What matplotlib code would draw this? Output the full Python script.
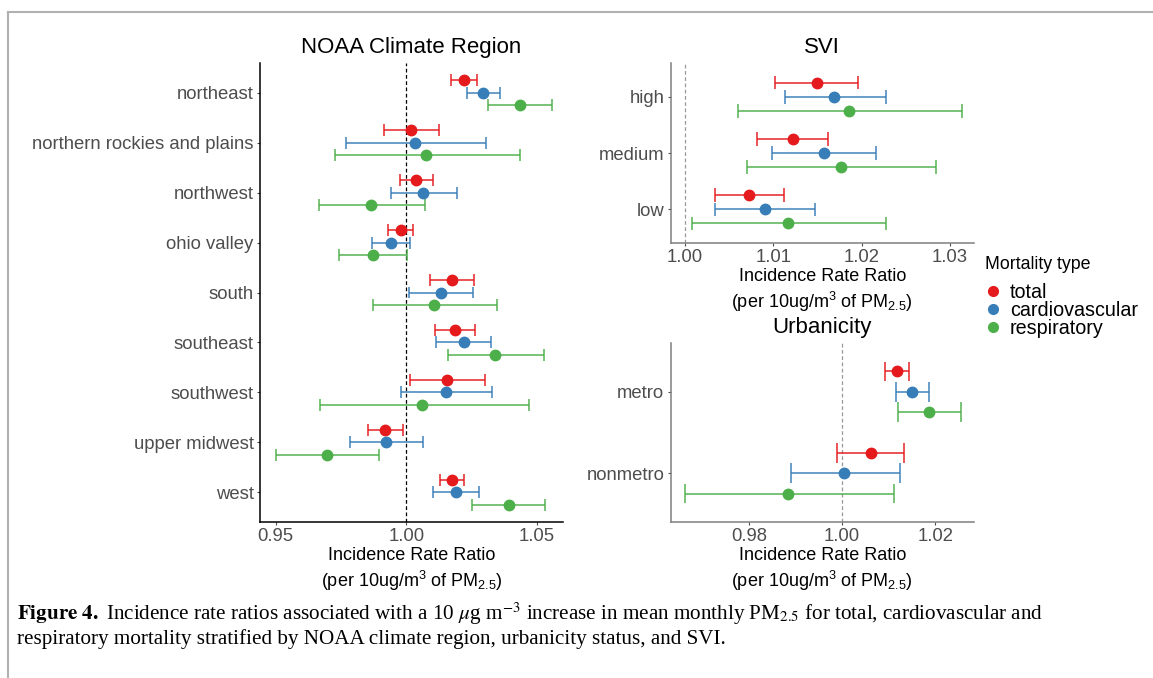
import matplotlib
matplotlib.use("Agg")
import matplotlib.pyplot as plt
from matplotlib.lines import Line2D
import numpy as np

plt.rcParams["font.family"] = ["Liberation Sans", "DejaVu Sans"]
plt.rcParams["mathtext.fontset"] = "custom"
plt.rcParams["mathtext.rm"] = "Liberation Sans"
plt.rcParams["mathtext.it"] = "Liberation Sans:italic"
plt.rcParams["mathtext.bf"] = "Liberation Sans:bold"

# ---- data (estimate, lower, upper) ----
types = ["total", "cardiovascular", "respiratory"]
colors = ["#E41A1C", "#377EB8", "#4DAF4A"]

regions = ["northeast", "northern rockies and plains", "northwest", "ohio valley",
           "south", "southeast", "southwest", "upper midwest", "west"]
region_total = [1.0221, 1.0018, 1.0038, 0.9978, 1.0174, 1.0187, 1.0154, 0.9920, 1.0175]
region_total_lo = [1.0173, 0.9914, 0.9975, 0.9931, 1.0089, 1.0111, 1.0015, 0.9854, 1.0129]
region_total_hi = [1.0272, 1.0124, 1.0102, 1.0026, 1.0259, 1.0265, 1.0300, 0.9988, 1.0221]
region_cardio = [1.0294, 1.0032, 1.0064, 0.9943, 1.0133, 1.0221, 1.0152, 0.9923, 1.0192]
region_cardio_lo = [1.0232, 0.9770, 0.9940, 0.9870, 1.0009, 1.0114, 0.9980, 0.9785, 1.0104]
region_cardio_hi = [1.0358, 1.0304, 1.0193, 1.0015, 1.0256, 1.0326, 1.0330, 1.0064, 1.0278]
region_resp = [1.0434, 1.0075, 0.9865, 0.9871, 1.0107, 1.0341, 1.0060, 0.9696, 1.0392]
region_resp_lo = [1.0314, 0.9728, 0.9667, 0.9744, 0.9873, 1.0161, 0.9671, 0.9501, 1.0253]
region_resp_hi = [1.0557, 1.0437, 1.0072, 1.0001, 1.0346, 1.0526, 1.0468, 0.9896, 1.0532]

svi = ["high", "medium", "low"]
svi_total = [1.0149, 1.0122, 1.0072]
svi_total_lo = [1.0102, 1.0082, 1.0034]
svi_total_hi = [1.0196, 1.0162, 1.0112]
svi_cardio = [1.0169, 1.0157, 1.0090]
svi_cardio_lo = [1.0113, 1.0098, 1.0034]
svi_cardio_hi = [1.0227, 1.0216, 1.0147]
svi_resp = [1.0186, 1.0177, 1.0117]
svi_resp_lo = [1.0060, 1.0070, 1.0008]
svi_resp_hi = [1.0313, 1.0284, 1.0227]

urban = ["metro", "nonmetro"]
urban_total = [1.0119, 1.0062]
urban_total_lo = [1.0093, 0.9989]
urban_total_hi = [1.0145, 1.0134]
urban_cardio = [1.0151, 1.0005]
urban_cardio_lo = [1.0117, 0.9890]
urban_cardio_hi = [1.0186, 1.0124]
urban_resp = [1.0188, 0.9885]
urban_resp_lo = [1.0121, 0.9663]
urban_resp_hi = [1.0256, 1.0112]

W, H = 1153, 678
fig = plt.figure(figsize=(W / 100, H / 100), dpi=100)


def px_axes(left, top, right, bottom):
    return fig.add_axes([left / W, 1 - bottom / H, (right - left) / W, (bottom - top) / H])


def forest(ax, cats, series, xlim, xticks, title, spine_color, ref_color, ref_ls):
    n = len(cats)
    y = np.arange(n)
    offsets = [-0.25, 0.0, 0.25]
    ax.axvline(1.0, color=ref_color, ls=ref_ls, lw=0.9, zorder=1)
    for (est, lo, hi), off, col in zip(series, offsets, colors):
        yy = y + off
        ax.hlines(yy, lo, hi, color=col, lw=1.4, alpha=0.75, zorder=2)
        ax.vlines(lo, yy - 0.12, yy + 0.12, color=col, lw=1.4, alpha=0.75, zorder=2)
        ax.vlines(hi, yy - 0.12, yy + 0.12, color=col, lw=1.4, alpha=0.75, zorder=2)
        ax.plot(est, yy, "o", color=col, ms=7.5, zorder=3)
    ax.set_ylim(n - 1 + 0.6, -0.6)
    ax.set_yticks(y)
    ax.set_yticklabels(cats)
    ax.set_xlim(*xlim)
    ax.set_xticks(xticks)
    ax.set_xticklabels([f"{t:.2f}" for t in xticks])
    for s in ["top", "right"]:
        ax.spines[s].set_visible(False)
    for s in ["left", "bottom"]:
        ax.spines[s].set_color(spine_color)
        ax.spines[s].set_linewidth(1.1)
    ax.tick_params(colors="#4D4D4D", labelsize=13.3, length=2.5, width=0.8, pad=2)
    ax.set_title(title, fontsize=16, pad=7)
    ax.set_xlabel("Incidence Rate Ratio\n(per 10ug/m$^3$ of PM$_{2.5}$)",
                  fontsize=13, labelpad=1, linespacing=1.3)


ax1 = px_axes(260, 63, 563, 522)
forest(ax1, regions,
       [(region_total, region_total_lo, region_total_hi),
        (region_cardio, region_cardio_lo, region_cardio_hi),
        (region_resp, region_resp_lo, region_resp_hi)],
       (0.944, 1.06), [0.95, 1.00, 1.05], "NOAA Climate Region",
       "black", "black", (0, (3, 2)))

ax2 = px_axes(670.5, 63, 974, 243)
forest(ax2, svi,
       [(svi_total, svi_total_lo, svi_total_hi),
        (svi_cardio, svi_cardio_lo, svi_cardio_hi),
        (svi_resp, svi_resp_lo, svi_resp_hi)],
       (0.99836, 1.0327), [1.00, 1.01, 1.02, 1.03], "SVI",
       "#7f7f7f", "#999999", (0, (3, 2)))

ax3 = px_axes(670.5, 343, 974, 522)
forest(ax3, urban,
       [(urban_total, urban_total_lo, urban_total_hi),
        (urban_cardio, urban_cardio_lo, urban_cardio_hi),
        (urban_resp, urban_resp_lo, urban_resp_hi)],
       (0.96316, 1.02836), [0.98, 1.00, 1.02], "Urbanicity",
       "#7f7f7f", "#999999", (0, (3, 2)))

handles = [Line2D([], [], marker="o", ls="", color=c, ms=7) for c in colors]
leg = fig.legend(handles, types, title="Mortality type", loc="upper left",
                 bbox_to_anchor=(985 / W, 1 - 256 / H), frameon=False, fontsize=14.2,
                 title_fontsize=12.8, alignment="left", handletextpad=0.45,
                 labelspacing=-0.05, handlelength=0.8, borderaxespad=0, borderpad=0)
leg._legend_box.sep = 7

# caption
cap_kw = dict(fontsize=15.2, family="Liberation Serif", math_fontfamily="stix",
              va="baseline", ha="left")
fig.text(17 / W, 1 - 620 / H,
         r"$\mathbf{Figure\ 4.}$ Incidence rate ratios associated with a 10 $\mu$g m$^{-3}$"
         r" increase in mean monthly PM$_{2.5}$ for total, cardiovascular and", **cap_kw)
fig.text(17 / W, 1 - 644 / H,
         "respiratory mortality stratified by NOAA climate region, urbanicity status, and SVI.",
         **cap_kw)

# page frame
fig.add_artist(Line2D([8 / W, 1], [1 - 12 / H] * 2, color="#b0b0b0", lw=1.5))
fig.add_artist(Line2D([8 / W] * 2, [0, 1 - 12 / H], color="#b0b0b0", lw=1.5))

fig.savefig("out.png", dpi=100)
